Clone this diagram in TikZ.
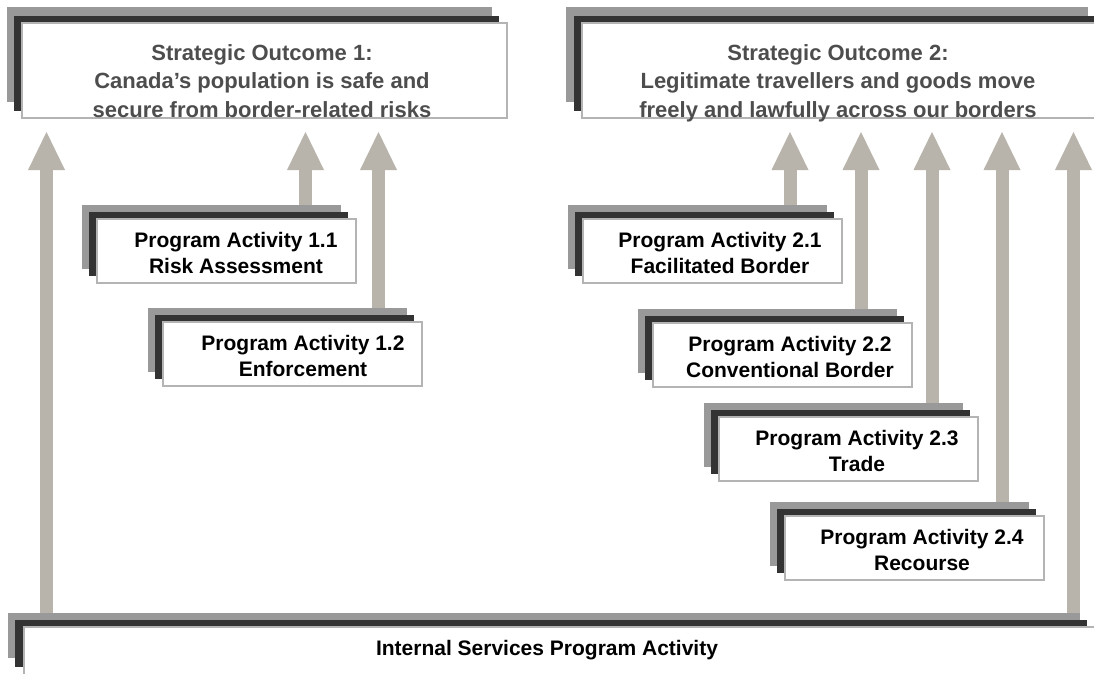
\documentclass[tikz,border=0pt]{standalone}
\usepackage{fontspec}
\setmainfont{Liberation Sans}
\usetikzlibrary{arrows.meta,backgrounds}
\definecolor{lgray}{HTML}{999999}
\definecolor{dgray}{HTML}{333333}
\definecolor{bgray}{HTML}{B4B4B4}
\definecolor{arrcol}{HTML}{B8B4AC}
\definecolor{sotext}{HTML}{4D4D4D}
\begin{document}
\begin{tikzpicture}[x=1pt,y=-1pt,
  rectbase/.style={anchor=north west, inner sep=0pt, outer sep=0pt},
  grayrect/.style={rectbase, fill=lgray},
  darkrect/.style={rectbase, fill=dgray},
  whiterect/.style={rectbase, fill=white, draw=bgray, line width=1.5pt},
  pasize/.style={minimum width=259pt, minimum height=64pt},
  sosize/.style={minimum width=485pt, minimum height=95pt},
  sotxt/.style={anchor=base, inner sep=0pt, text=sotext, font=\bfseries\fontsize{22}{28.5}\selectfont},
  patxt/.style={anchor=base, inner sep=0pt, text=black, font=\bfseries\fontsize{21}{26}\selectfont},
  uparrow/.style={draw=arrcol, line width=13pt, -{Triangle[width=37pt,length=38pt,line width=0pt]}}
]
\useasboundingbox (0,0) rectangle (1094,673);

% Strategic outcome boxes
\node[grayrect, sosize] (so1g) at (7,7) {};
\node[darkrect, sosize] (so1d) at (14,16) {};
\node[whiterect, sosize] (so1) at (22,23) {};
\node[grayrect, minimum width=522pt, minimum height=95pt] (so2g) at (566,7) {};
\node[darkrect, minimum width=530pt, minimum height=95pt] (so2d) at (574,16) {};
\node[whiterect, minimum width=520pt, minimum height=95pt] (so2) at (582,23) {};

\node[sotxt] (so1t) at (262,60) {\begin{tabular}[t]{@{}c@{}}Strategic Outcome 1:\\Canada’s population is safe and\\secure from border-related risks\end{tabular}};
\node[sotxt] (so2t) at (838,60) {\begin{tabular}[t]{@{}c@{}}Strategic Outcome 2:\\Legitimate travellers and goods move\\freely and lawfully across our borders\end{tabular}};

% Program activity stacks
\newcommand{\pastack}[3]{%
  \node[grayrect, pasize] (#1g) at (#2-15,#3-14) {};
  \node[darkrect, pasize] (#1d) at (#2-8,#3-7) {};
  \node[whiterect, pasize] (#1) at (#2,#3) {};
}
\pastack{pa11}{97}{219}
\pastack{pa12}{163}{322}
\pastack{pa21}{583}{219}
\pastack{pa22}{653}{323}
\pastack{pa23}{719}{417}
\pastack{pa24}{785}{516}

\node[patxt] (pa11t) at (236,247) {\begin{tabular}[t]{@{}c@{}}Program Activity 1.1\\Risk Assessment\end{tabular}};
\node[patxt] (pa12t) at (303,350) {\begin{tabular}[t]{@{}c@{}}Program Activity 1.2\\Enforcement\end{tabular}};
\node[patxt] (pa21t) at (720,247) {\begin{tabular}[t]{@{}c@{}}Program Activity 2.1\\Facilitated Border\end{tabular}};
\node[patxt] (pa22t) at (790,351) {\begin{tabular}[t]{@{}c@{}}Program Activity 2.2\\Conventional Border\end{tabular}};
\node[patxt] (pa23t) at (857,445) {\begin{tabular}[t]{@{}c@{}}Program Activity 2.3\\Trade\end{tabular}};
\node[patxt] (pa24t) at (922,544) {\begin{tabular}[t]{@{}c@{}}Program Activity 2.4\\Recourse\end{tabular}};

% Internal services
\node[grayrect, minimum width=1072pt, minimum height=45pt] (isg) at (8,613) {};
\node[darkrect, minimum width=1072pt, minimum height=47pt] (isd) at (15,620) {};
\node[whiterect, minimum width=1090pt, minimum height=80pt] (is) at (24,627) {};
\node[patxt] (ist) at (547,655) {Internal Services Program Activity};

% arrow tips
\coordinate (t1) at (46.5,132);
\coordinate (t2) at (305.5,132);
\coordinate (t3) at (378.5,132);
\coordinate (t4) at (790,132);
\coordinate (t5) at (861,132);
\coordinate (t6) at (932,132);
\coordinate (t7) at (1002,132);
\coordinate (t8) at (1073.5,132);

\begin{scope}[on background layer]
  \fill[white] (0,0) rectangle (1094,673);
  \draw[uparrow] (isg.north -| t1) -- (t1);
  \draw[uparrow] (pa11g.north -| t2) -- (t2);
  \draw[uparrow] (pa12g.north -| t3) -- (t3);
  \draw[uparrow] (pa21g.north -| t4) -- (t4);
  \draw[uparrow] (pa22g.north -| t5) -- (t5);
  \draw[uparrow] (pa23g.north -| t6) -- (t6);
  \draw[uparrow] (pa24g.north -| t7) -- (t7);
  \draw[uparrow] (isg.north -| t8) -- (t8);
\end{scope}
\end{tikzpicture}
\end{document}
